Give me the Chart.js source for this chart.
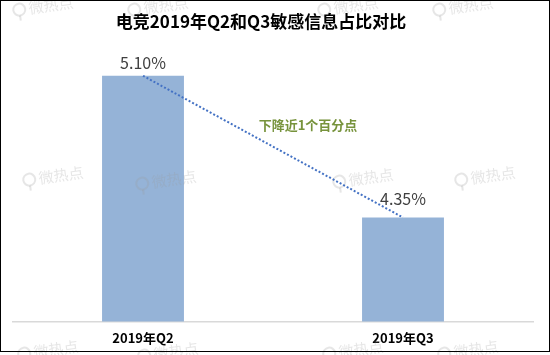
<!DOCTYPE html>
<html><head><meta charset="utf-8">
<script src="https://cdn.jsdelivr.net/npm/chart.js@4.4.0/dist/chart.umd.min.js"></script>
<style>
html,body{margin:0;padding:0;background:#fff;}
#wrap{position:relative;width:550px;height:355px;}
#frame{position:absolute;left:0;top:0;width:548px;height:350px;border:1px solid #000;pointer-events:none;}
canvas{position:absolute;left:0;top:0;}
</style></head>
<body>
<div id="wrap"><canvas id="c" width="550" height="355"></canvas><div id="frame"></div></div>
<script>
const categories = ["2019年Q2", "2019年Q3"];
const values = [5.10, 4.35];
const valueLabels = ["5.10%", "4.35%"];
const titleText = "电竞2019年Q2和Q3敏感信息占比对比";
const noteText = "下降近1个百分点";
const watermarkText = "微热点";
const FONT = "'Noto Sans CJK SC','Noto Sans',sans-serif";

const overlay = {
  id: 'overlay',
  afterDatasetsDraw(chart) {
    const ctx = chart.ctx;
    const xs = chart.scales.x, ys = chart.scales.y;
    const pts = values.map((v, i) => [xs.getPixelForValue(i), ys.getPixelForValue(v)]);
    ctx.save();
    // watermarks
    const marks = [[45,6],[160,6],[350,6],[465,6],[55,176],[168,180],[365,178],[487,176],[50,350],[170,352],[355,350],[470,350]];
    marks.forEach(m => {
      ctx.save();
      ctx.translate(m[0], m[1]);
      ctx.rotate(-0.14);
      ctx.globalAlpha = 0.25;
      ctx.strokeStyle = '#9a9a9a';
      ctx.fillStyle = '#9a9a9a';
      ctx.lineWidth = 2;
      ctx.beginPath(); ctx.arc(-26, 0, 6, 0, Math.PI * 2); ctx.stroke();
      ctx.fillRect(-27, 6, 2, 5);
      ctx.font = "15px " + FONT;
      ctx.textAlign = 'center'; ctx.textBaseline = 'middle';
      ctx.fillText(watermarkText, 6, 0);
      ctx.restore();
    });
    // dotted line
    ctx.strokeStyle = '#4472C4';
    ctx.lineWidth = 2;
    ctx.setLineDash([2, 2]);
    ctx.beginPath();
    ctx.moveTo(pts[0][0], pts[0][1]);
    ctx.lineTo(pts[1][0], pts[1][1]);
    ctx.stroke();
    ctx.setLineDash([]);
    // value labels
    ctx.fillStyle = '#404040';
    ctx.font = "16px " + FONT;
    ctx.textAlign = 'center';
    ctx.textBaseline = 'middle';
    pts.forEach((p, i) => ctx.fillText(valueLabels[i], p[0], p[1] - 13 - (i === 1 ? 6 : 0)));
    // note
    ctx.fillStyle = '#77933C';
    ctx.font = "bold 13px " + FONT;
    ctx.fillText(noteText, (pts[0][0] + pts[1][0]) / 2 + 35, ys.getPixelForValue(5.07) + 44);
    // title
    ctx.fillStyle = '#000';
    ctx.font = "bold 17px " + FONT;
    ctx.fillText(titleText, 261, 22);
    ctx.restore();
  }
};

new Chart(document.getElementById('c'), {
  type: 'bar',
  data: {
    labels: categories,
    datasets: [{
      data: values,
      backgroundColor: '#95B3D7',
      categoryPercentage: 0.63,
      barPercentage: 0.5
    }]
  },
  options: {
    responsive: false,
    animation: false,
    layout: { padding: { left: 13, right: 17, top: 38, bottom: 0 } },
    plugins: { legend: { display: false }, tooltip: { enabled: false }, title: { display: false } },
    scales: {
      x: {
        grid: { display: false, drawTicks: false },
        border: { display: true, color: '#D9D9D9', width: 1.5 },
        ticks: { color: '#000', padding: 9, font: { family: FONT, size: 13, weight: 'bold' } }
      },
      y: { display: false, min: 3.8, max: 5.3 }
    }
  },
  plugins: [overlay]
});
</script>
</body></html>
